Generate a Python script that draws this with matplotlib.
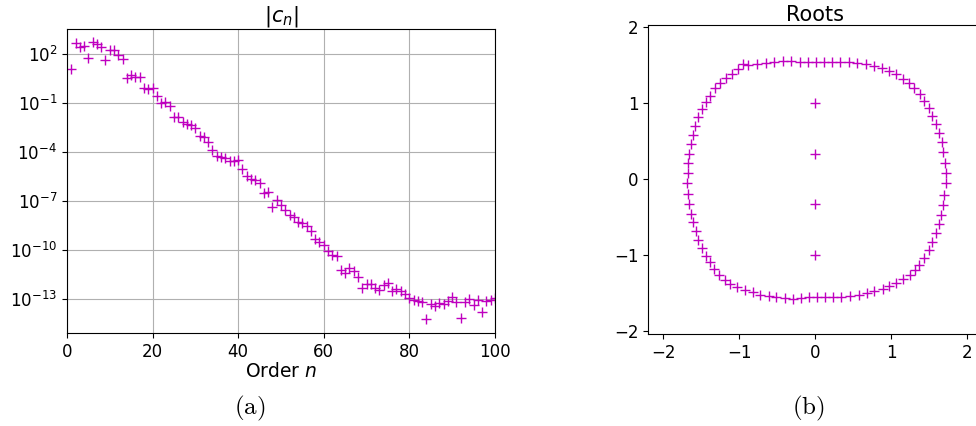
import numpy as np
import matplotlib.pyplot as plt
from matplotlib.ticker import FixedLocator, NullLocator

# |c_n|, as log10 values, n = 1..100
order_n = list(range(1, 101))
log_cn = [
    1.06, 2.63, 2.43, 2.49, 1.74, 2.69, 2.59, 2.41, 1.59, 2.20,
    2.20, 1.94, 1.67, 0.51, 0.67, 0.55, 0.55, -0.10, -0.14, -0.12,
    -0.57, -1.00, -0.95, -1.20, -1.86, -1.88, -2.18, -2.30, -2.38, -2.55,
    -3.06, -3.10, -3.43, -3.92, -4.25, -4.33, -4.39, -4.60, -4.60, -4.49,
    -5.06, -5.50, -5.67, -5.75, -5.90, -6.53, -6.49, -7.41, -6.94, -7.25,
    -7.55, -7.86, -8.02, -8.31, -8.37, -8.53, -8.88, -9.35, -9.55, -9.70,
    -10.10, -10.31, -10.41, -11.23, -11.43, -11.12, -11.33, -11.68, -12.35, -12.12,
    -12.08, -12.35, -12.45, -12.15, -12.06, -12.50, -12.40, -12.52, -12.73, -12.95,
    -13.08, -13.15, -13.23, -14.25, -13.31, -13.47, -13.27, -13.31, -13.17, -12.90,
    -13.23, -14.18, -13.23, -13.02, -13.37, -13.10, -13.84, -13.17, -13.06, -12.96,
]
ytick_exp = [2, -1, -4, -7, -10, -13]

# roots: upper half of the contour, left to right
roots_re_top = [
    -1.680, -1.671, -1.662, -1.640, -1.614, -1.583, -1.540, -1.495, -1.439, -1.386,
    -1.321, -1.255, -1.176, -1.088, -1.014, -0.949, -0.883, -0.765, -0.650, -0.541,
    -0.423, -0.313, -0.204, -0.095, 0.007, 0.116, 0.226, 0.331, 0.444, 0.554,
    0.672, 0.782, 0.883, 0.979, 1.067, 1.154, 1.233, 1.307, 1.386, 1.439,
    1.496, 1.540, 1.593, 1.636, 1.666, 1.689, 1.711, 1.724,
]
roots_im_top = [
    0.079, 0.210, 0.333, 0.460, 0.583, 0.700, 0.816, 0.921, 1.013, 1.100,
    1.197, 1.263, 1.329, 1.386, 1.451, 1.513, 1.504, 1.517, 1.534, 1.547,
    1.556, 1.556, 1.547, 1.547, 1.547, 1.547, 1.547, 1.547, 1.547, 1.534,
    1.517, 1.495, 1.460, 1.429, 1.386, 1.320, 1.271, 1.197, 1.118, 1.030,
    0.934, 0.837, 0.724, 0.605, 0.482, 0.355, 0.218, 0.079,
]
# lower half, left to right
roots_re_bot = [
    -1.685, -1.671, -1.658, -1.636, -1.606, -1.575, -1.540, -1.495, -1.439, -1.386,
    -1.330, -1.264, -1.189, -1.114, -1.028, -0.926, -0.817, -0.720, -0.611, -0.510,
    -0.401, -0.292, -0.181, -0.081, 0.024, 0.125, 0.234, 0.344, 0.463, 0.576,
    0.681, 0.782, 0.891, 0.979, 1.067, 1.163, 1.251, 1.321, 1.373, 1.439,
    1.496, 1.540, 1.593, 1.636, 1.658, 1.679, 1.702, 1.724,
]
roots_im_bot = [
    -0.058, -0.193, -0.325, -0.457, -0.571, -0.689, -0.799, -0.908, -1.009, -1.097,
    -1.184, -1.259, -1.325, -1.378, -1.421, -1.466, -1.492, -1.522, -1.545, -1.558,
    -1.566, -1.575, -1.566, -1.558, -1.553, -1.553, -1.558, -1.553, -1.545, -1.522,
    -1.500, -1.479, -1.447, -1.413, -1.368, -1.316, -1.259, -1.193, -1.128, -1.039,
    -0.939, -0.834, -0.711, -0.592, -0.470, -0.338, -0.207, -0.058,
]
# roots on the imaginary axis
roots_re_axis = [0.0, 0.0, 0.0, 0.0]
roots_im_axis = [1.0, 1/3, -1/3, -1.0]

plt.rcParams['font.size'] = 12

fig = plt.figure(figsize=(9.76, 4.26), dpi=100)

# (a) coefficient magnitudes
ax1 = fig.add_axes([0.0686, 0.2183, 0.4385, 0.7135])
ax1.semilogy(order_n, 10.0 ** np.array(log_cn), '+', color='m', markersize=6.5)
ax1.set_xlim(0, 100)
ax1.set_ylim(10 ** -15.1, 10 ** 3.5)
ax1.yaxis.set_major_locator(FixedLocator([10.0 ** e for e in ytick_exp]))
ax1.yaxis.set_minor_locator(NullLocator())
ax1.set_xticks([0, 20, 40, 60, 80, 100])
ax1.grid(True)
ax1.set_title(r'$|c_n|$', fontsize=15, pad=2)
ax1.set_xlabel(r'Order $n$', fontsize=13.5, labelpad=1)

# (b) roots
ax2 = fig.add_axes([0.664, 0.2160, 0.3422, 0.7254])
ax2.plot(roots_re_top + roots_re_bot + roots_re_axis,
         roots_im_top + roots_im_bot + roots_im_axis,
         '+', color='m', markersize=6.5)
ax2.set_xlim(-2.2, 2.2)
ax2.set_ylim(-2.04, 2.03)
ax2.set_xticks([-2, -1, 0, 1, 2])
ax2.set_yticks([-2, -1, 0, 1, 2])
ax2.set_title('Roots', fontsize=15, pad=2)

fig.text(0.256, 0.042, r'$\mathrm{(a)}$', math_fontfamily='cm',
         fontsize=18, ha='center', va='center')
fig.text(0.828, 0.042, r'$\mathrm{(b)}$', math_fontfamily='cm',
         fontsize=18, ha='center', va='center')

fig.savefig('out.png', dpi=100)
